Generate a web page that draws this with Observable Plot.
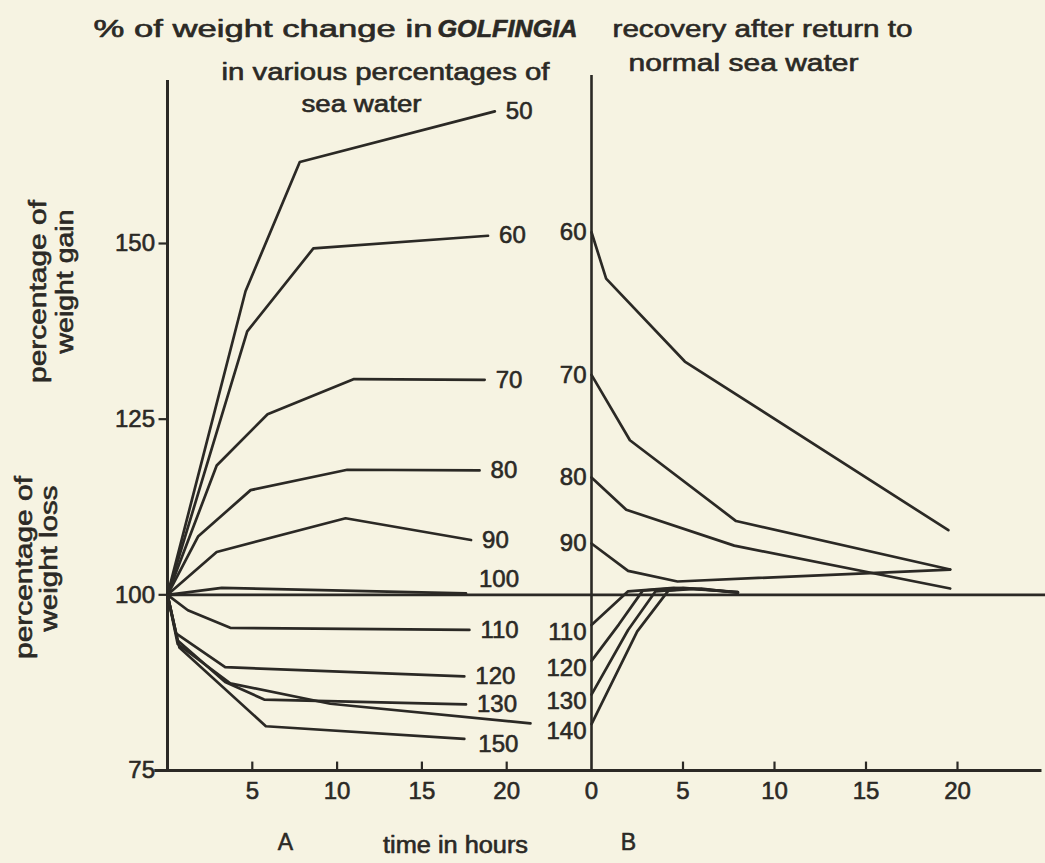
<!DOCTYPE html>
<html>
<head>
<meta charset="utf-8">
<script src="https://cdn.jsdelivr.net/npm/d3@7"></script>
<script src="https://cdn.jsdelivr.net/npm/@observablehq/plot@0.6"></script>
<style>
  html, body { margin: 0; padding: 0; background: #f6f3e2; }
  #chart { width: 1045px; height: 863px; }
</style>
</head>
<body>
<div id="chart"></div>
<script>
// ---------- data ----------
const yTicks = [75, 100, 125, 150];
const xTicksA = [5, 10, 15, 20];
const xTicksB = [0, 5, 10, 15, 20];

// Panel A: % of weight vs hours in various % of sea water
const seriesA = ["50", "60", "70", "80", "90", "100", "110", "120", "130", "140", "150"];
const a50  = [[0, 100], [4.6, 143.2], [7.8, 161.6], [19.3, 168.8]];
const a60  = [[0, 100], [4.7, 137.5], [8.6, 149.3], [18.9, 151.1]];
const a70  = [[0, 100], [2.9, 118.4], [5.9, 125.7], [11.0, 130.7], [18.7, 130.6]];
const a80  = [[0, 100], [1.8, 108.3], [4.9, 114.9], [10.6, 117.8], [18.4, 117.7]];
const a90  = [[0, 100], [2.9, 106.1], [10.5, 110.9], [17.9, 107.8]];
const a100 = [[0, 100], [3.2, 101.0], [17.6, 100.2]];
const a110 = [[0, 100], [1.2, 97.8], [3.7, 95.3], [17.8, 95.0]];
const a120 = [[0, 100], [0.5, 94.5], [3.4, 89.7], [17.5, 88.4]];
const a130 = [[0, 100], [0.6, 93.5], [3.4, 87.6], [5.7, 85.1], [17.6, 84.4]];
const a140 = [[0, 100], [0.6, 93.0], [3.7, 87.4], [9.6, 84.5], [21.4, 81.7]];
const a150 = [[0, 100], [0.7, 92.5], [5.8, 81.3], [17.5, 79.5]];

// Panel B: recovery after return to normal sea water
const seriesB = ["60", "70", "80", "90", "110", "120", "130", "140"];
const b60  = [[0, 151.6], [0.8, 145.0], [5.1, 133.2], [19.5, 109.2]];
const b70  = [[0, 131.3], [2.1, 122.0], [7.9, 110.5], [19.6, 103.6]];
const b80  = [[0, 116.7], [1.9, 112.1], [7.8, 107.0], [19.6, 100.9]];
const b90  = [[0, 107.3], [2.0, 103.4], [4.7, 101.9], [19.6, 103.6]];
const b110 = [[0, 95.7], [2.0, 100.5], [4.5, 101.0], [8, 100.4]];
const b120 = [[0, 90.6], [1.5, 95.8], [2.8, 100.6], [5, 101.0], [8, 100.4]];
const b130 = [[0, 85.8], [2.0, 95.0], [3.5, 100.5], [5.5, 100.9], [8, 100.3]];
const b140 = [[0, 81.6], [2.5, 94.8], [4.2, 100.6], [6, 100.9], [8, 100.3]];

// ---------- build tables ----------
const curvesA = [a50, a60, a70, a80, a90, a100, a110, a120, a130, a140, a150];
const curvesB = [b60, b70, b80, b90, b110, b120, b130, b140];
const B_START = 25; // hour 0 of panel B on the shared time axis

const rows = [
  ...seriesA.flatMap((s, i) => curvesA[i].map(([t, v]) => ({panel: "A", series: s, x: t, v}))),
  ...seriesB.flatMap((s, i) => curvesB[i].map(([t, v]) => ({panel: "B", series: s, x: B_START + t, v})))
];
// the "140" label between the panels is shared by A's end and B's start
const endsA = seriesA.map((s, i) => {
  const p = curvesA[i][curvesA[i].length - 1];
  return {series: s, x: p[0], v: p[1]};
}).filter(d => d.series !== "140");
const startsB = seriesB.map((s, i) => ({series: s, x: B_START, v: curvesB[i][0][1]}));

const INK = "#2b2925";
const FONT = "'Liberation Sans', Arial, Helvetica, sans-serif";
const txt = {fontSize: 24, fill: INK, stroke: INK, strokeWidth: 0.6};

function note(text, dx, dy, opts = {}) {
  return Plot.text([text], {
    text: d => d, frameAnchor: "top-left", dx, dy,
    lineAnchor: "bottom", textAnchor: "start", fontSize: 23, fill: INK, stroke: INK, strokeWidth: 0.6,
    ...opts
  });
}

const chart = Plot.plot({
  width: 1045,
  height: 863,
  margin: 0,
  style: {background: "transparent", fontFamily: FONT, color: INK, overflow: "visible"},
  x: {type: "linear", domain: [0, B_START, B_START + 20, B_START + 25], range: [167, 591, 957, 1045], axis: null},
  y: {type: "linear", domain: [75, 150], range: [770, 243], axis: null},
  marks: [
    // axes
    Plot.ruleY([75], {x1: -0.75, x2: 49.8, stroke: INK, strokeWidth: 3}),
    Plot.ruleX([0], {y1: 75, y2: 173.2, stroke: INK, strokeWidth: 3}),
    Plot.ruleX([B_START], {y1: 75, y2: 173.9, stroke: INK, strokeWidth: 2.6}),
    Plot.ruleY([100], {x1: 0, x2: 50, stroke: INK, strokeWidth: 2.6}),
    Plot.ruleY(yTicks, {x1: -0.5, x2: 0, stroke: INK, strokeWidth: 2.2}),
    Plot.text(yTicks, {x: -0.5, y: d => d, dx: -4, textAnchor: "end", ...txt}),
    Plot.ruleX(xTicksA, {y1: 75, y2: 76.2, stroke: INK, strokeWidth: 2.2}),
    Plot.ruleX(xTicksB.slice(1), {x: d => B_START + d, y1: 75, y2: 76.2, stroke: INK, strokeWidth: 2.2}),
    Plot.text(xTicksA, {x: d => d, y: 75, dy: 21, ...txt}),
    Plot.text(xTicksB, {x: d => B_START + d, y: 75, dy: 21, ...txt}),

    // data lines
    Plot.line(rows, {x: "x", y: "v", z: d => d.panel + d.series, stroke: INK, strokeWidth: 2.7, strokeLinejoin: "round"}),

    // series labels, panel A (at line ends)
    Plot.text(endsA.filter(d => !["100", "150"].includes(d.series)), {x: "x", y: "v", text: "series", dx: 11, textAnchor: "start", ...txt}),
    Plot.text(endsA.filter(d => d.series === "100"), {x: "x", y: "v", text: "series", dx: 13, dy: -14, textAnchor: "start", ...txt}),
    Plot.text(endsA.filter(d => d.series === "150"), {x: "x", y: "v", text: "series", dx: 14, dy: 5, textAnchor: "start", ...txt}),
    // series labels, panel B (at line starts)
    Plot.text(startsB.filter(d => d.v > 100), {x: "x", y: "v", text: "series", dx: -5, textAnchor: "end", ...txt}),
    Plot.text(startsB.filter(d => d.v < 100), {x: "x", y: "v", text: "series", dx: -5, dy: 7, textAnchor: "end", ...txt}),

    // titles and axis notes
    note("% of weight change in", 93, 36),
    note("GOLFINGIA", 437, 36, {fontWeight: "bold", fontStyle: "italic"}),
    note("in various percentages of", 385, 79, {textAnchor: "middle"}),
    note("sea water", 361, 111, {textAnchor: "middle"}),
    note("recovery after return to", 612, 36),
    note("normal sea water", 628, 70),
    note("percentage of", 45, 291, {rotate: -90, textAnchor: "middle"}),
    note("weight gain", 72, 281, {rotate: -90, textAnchor: "middle"}),
    note("percentage of", 31, 567, {rotate: -90, textAnchor: "middle"}),
    note("weight loss", 56, 558, {rotate: -90, textAnchor: "middle"}),
    note("A", 285, 849, {textAnchor: "middle"}),
    note("time in hours", 455, 852, {textAnchor: "middle"}),
    note("B", 628, 849, {textAnchor: "middle"})
  ]
});

document.getElementById("chart").appendChild(chart);

// stretch the wide-set lettering of the printed headings to their measured lengths
const lengths = new Map([
  ["% of weight change in", 339],
  ["GOLFINGIA", 140],
  ["in various percentages of", 328],
  ["sea water", 120],
  ["recovery after return to", 300],
  ["normal sea water", 230],
  ["percentage of", 183],
  ["weight gain", 144],
  ["weight loss", 146],
  ["time in hours", 145]
]);
d3.select(chart).selectAll("text").each(function () {
  const L = lengths.get(this.textContent);
  if (L) {
    this.setAttribute("textLength", L);
    this.setAttribute("lengthAdjust", "spacingAndGlyphs");
  }
});
</script>
</body>
</html>
